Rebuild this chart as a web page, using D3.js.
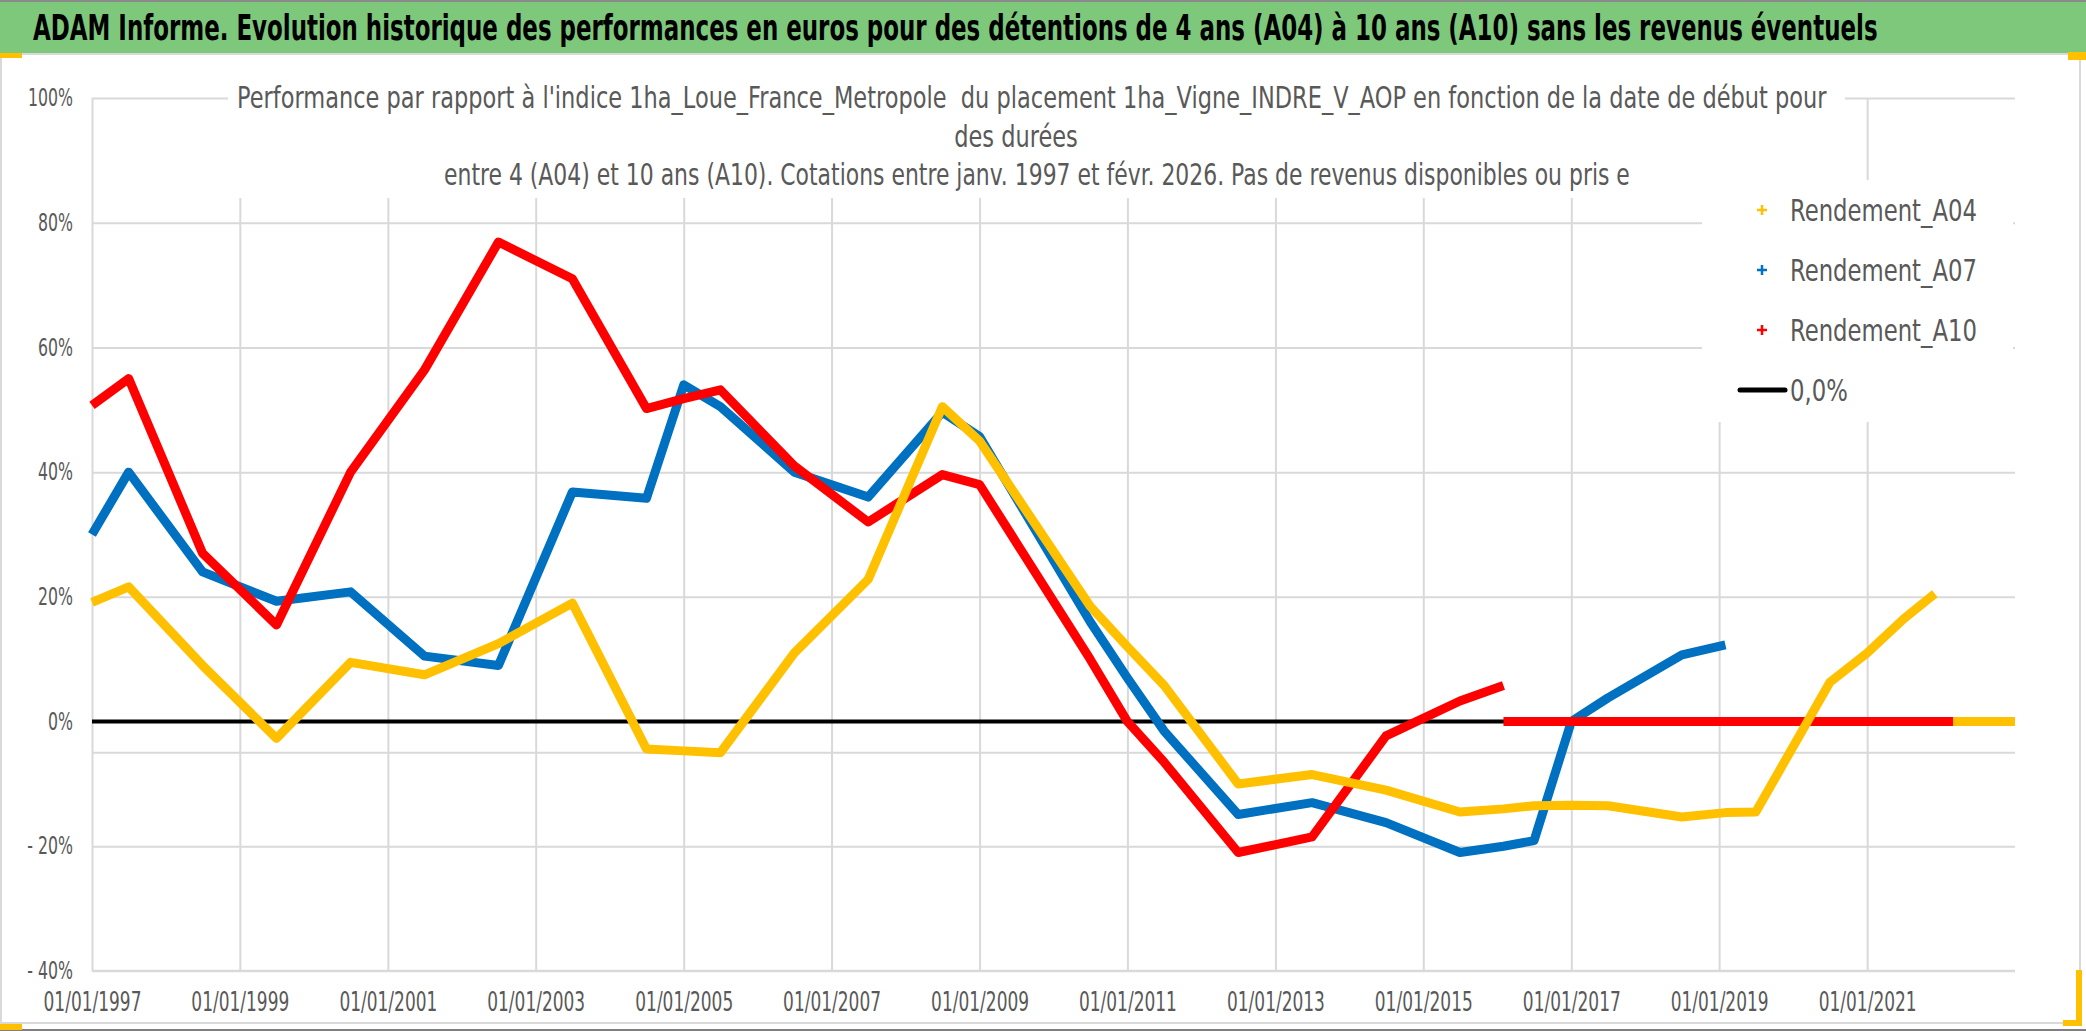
<!DOCTYPE html>
<html lang="fr">
<head>
    <meta charset="UTF-8">
    <title>ADAM Informe - Rendements A04 / A07 / A10</title>
    <script src="https://d3js.org/d3.v7.min.js"></script>
    <style>
        html, body { margin: 0; padding: 0; background: #ffffff; }
        svg { display: block; }
        text {
            font-family: 'Liberation Sans Narrow', 'DejaVu Sans Condensed', 'Liberation Sans', sans-serif;
            white-space: pre;
        }
    </style>
</head>
<body>
    <div id="chart"></div>

    <script>
        // Dates de début des placements (sommets)
        const startDates = ["1997-01", "1997-07", "1998-07", "1999-07", "2000-07", "2001-07", "2002-07",
            "2003-07", "2004-07", "2005-01", "2005-07", "2006-07", "2007-07", "2008-07", "2009-01",
            "2010-07", "2011-01", "2011-07", "2012-07", "2013-07", "2014-07", "2015-07", "2016-02",
            "2016-07", "2017-01", "2017-07", "2018-07", "2019-02", "2019-07", "2020-07", "2021-01",
            "2021-07", "2021-12"];

        // Rendements en %
        const rendA04 = [19.1, 21.6, 9, -2.7, 9.5, 7.5, 12.5, 19, -4.4, -4.7, -5.0, 11, 22.8, 50.5, 45,
            18.5, 12, 5.8, -10, -8.5, -11, -14.5, -14, -13.5, -13.4, -13.5, -15.3, -14.6, -14.5, 6.3, 11,
            16.5, 20.5];
        const rendA07 = [30, 40, 24, 19.3, 20.8, 10.5, 9, 36.8, 35.8, 54, 50.5, 40, 36, 49.6, 45.7,
            16, 7, -1.5, -14.9, -13, -16.2, -21, -20, -19.1, 0, 3.8, 10.7, 12.3, null, null, null,
            null, null];
        const rendA10 = [50.7, 55, 27, 15.5, 40, 56.4, 76.9, 71, 50.2, 51.8, 53.2, 41, 32, 39.6, 38,
            10, 0, -6.5, -21, -18.5, -2.3, 3.3, 5.8, null, null, null, null, null, null, null, null,
            null, null];

        // Cellules à 0 après la dernière date de début possible
        const zeroA04 = ["2022-03", "2023-01"];
        const zeroA07 = ["2019-03", "2023-01"];
        const zeroA10 = ["2016-02", "2023-01"];
        const zeroLine = ["1997-01", "2023-01"];

        const xTickYears = [1997, 1999, 2001, 2003, 2005, 2007, 2009, 2011, 2013, 2015, 2017, 2019, 2021];
        const yTicks = [-40, -20, 0, 20, 40, 60, 80, 100];
        const legendLabels = ["Rendement_A04", "Rendement_A07", "Rendement_A10", "0,0%"];

        const mainTitle = "ADAM Informe. Evolution historique des performances en euros pour des détentions de 4 ans (A04) à 10 ans (A10) sans les revenus éventuels";
        const subTitle = [
            "Performance par rapport à l'indice 1ha_Loue_France_Metropole  du placement 1ha_Vigne_INDRE_V_AOP en fonction de la date de début pour",
            "des durées",
            "entre 4 (A04) et 10 ans (A10). Cotations entre janv. 1997 et févr. 2026. Pas de revenus disponibles ou pris e"
        ];

        const config = {
            width: 2086,
            height: 1031,
            plot: { left: 92, right: 2015, top: 98, bottom: 971 },
            colors: {
                a04: '#ffc000',
                a07: '#0070c0',
                a10: '#ff0000',
                zero: '#000000',
                grid: '#d9d9d9',
                text: '#595959',
                banner: '#7ec87c'
            }
        };

        // facteur d'échelle horizontal pour qu'un texte occupe une largeur donnée
        function squeeze(textNode, width) {
            return width / textNode.getComputedTextLength();
        }

        function initChart() {
            const parse = d3.timeParse('%Y-%m');
            const p = config.plot;

            const svg = d3.select('#chart').append('svg')
                .attr('width', config.width)
                .attr('height', config.height);

            svg.append('rect').attr('width', config.width).attr('height', config.height).attr('fill', '#fff');

            // Bandeau titre
            svg.append('rect')
                .attr('x', 0).attr('y', 1).attr('width', config.width).attr('height', 52)
                .attr('fill', config.colors.banner);
            svg.append('line')
                .attr('x1', 0).attr('x2', config.width).attr('y1', 1).attr('y2', 1)
                .attr('stroke', '#8a8a8a').attr('stroke-width', 2);
            const title = svg.append('text')
                .attr('dy', '0.36em')
                .style('font-size', '36px')
                .style('font-weight', 'bold')
                .style('fill', '#000')
                .text(mainTitle);
            title.attr('transform', `translate(33, 27) scale(${squeeze(title.node(), 1845)}, 1)`);

            // Cadre du graphique
            svg.append('rect')
                .attr('x', 1).attr('y', 54).attr('width', 2079).attr('height', 969)
                .attr('fill', 'none').attr('stroke', config.colors.grid).attr('stroke-width', 2);
            svg.append('line')
                .attr('x1', 0).attr('x2', config.width).attr('y1', 1030).attr('y2', 1030)
                .attr('stroke', '#7f7f7f').attr('stroke-width', 2);
            // poignées de sélection
            [[0, 53, 22, 5], [2068, 52, 18, 8], [0, 1024, 22, 6], [2076, 970, 6, 56], [2063, 1020, 19, 6]]
                .forEach(r => svg.append('rect')
                    .attr('x', r[0]).attr('y', r[1]).attr('width', r[2]).attr('height', r[3])
                    .attr('fill', '#ffc000'));

            const x = d3.scaleTime()
                .domain([parse('1997-01'), parse('2023-01')])
                .range([p.left, p.right]);
            const y = d3.scaleLinear()
                .domain([-40, 100])
                .range([p.bottom, p.top]);

            const xTicks = xTickYears.map(yr => new Date(yr, 0, 1));

            // Grille
            svg.append('g')
                .attr('transform', `translate(0, ${p.bottom})`)
                .call(d3.axisBottom(x).tickValues(xTicks).tickSize(-(p.bottom - p.top)).tickFormat(''))
                .call(g => g.select('.domain').remove())
                .selectAll('line')
                .attr('stroke', config.colors.grid).attr('stroke-width', 2);

            svg.append('g')
                .attr('transform', `translate(${p.left}, 0)`)
                .call(d3.axisLeft(y).tickValues(yTicks.filter(v => v > -40)).tickSize(-(p.right - p.left)).tickFormat(''))
                .call(g => g.select('.domain').remove())
                .selectAll('line')
                .attr('stroke', config.colors.grid).attr('stroke-width', 2);

            // Fonds blancs du titre et de la légende
            svg.append('rect').attr('x', 228).attr('y', 70).attr('width', 1617).attr('height', 128).attr('fill', '#fff');
            svg.append('rect').attr('x', 1702).attr('y', 180).attr('width', 311).attr('height', 242).attr('fill', '#fff');

            // Axe horizontal secondaire et axe du bas
            svg.append('line')
                .attr('x1', p.left).attr('x2', p.right).attr('y1', y(-5)).attr('y2', y(-5))
                .attr('stroke', config.colors.grid).attr('stroke-width', 2);
            svg.append('line')
                .attr('x1', p.left).attr('x2', p.right).attr('y1', p.bottom).attr('y2', p.bottom)
                .attr('stroke', config.colors.grid).attr('stroke-width', 2.5);

            // Libellés des axes
            const xLabels = svg.append('g')
                .attr('transform', `translate(0, ${p.bottom})`)
                .call(d3.axisBottom(x).tickValues(xTicks).tickSize(0).tickPadding(22)
                    .tickFormat(d3.timeFormat('%d/%m/%Y')))
                .call(g => g.select('.domain').remove())
                .selectAll('text')
                .attr('font-family', null)
                .style('font-size', '26px')
                .attr('fill', config.colors.text);
            const kx = squeeze(xLabels.node(), 98);
            xLabels.attr('transform', `scale(${kx}, 1)`);

            const yLabels = svg.append('g')
                .attr('transform', `translate(${p.left}, 0)`)
                .call(d3.axisLeft(y).tickValues(yTicks).tickSize(0).tickPadding(19)
                    .tickFormat(v => v < 0 ? `- ${Math.abs(v)}%` : `${v}%`))
                .call(g => g.select('.domain').remove())
                .selectAll('text')
                .attr('font-family', null)
                .style('font-size', '24px')
                .attr('fill', config.colors.text);
            const ky = squeeze(yLabels.filter(d => d === 100).node(), 45);
            yLabels.attr('x', -19 / ky).attr('transform', `scale(${ky}, 1)`);

            // Séries
            const line = d3.line()
                .defined(d => d.v !== null)
                .x(d => x(d.date))
                .y(d => y(d.v));

            const toPoints = values => startDates.map((s, i) => ({ date: parse(s), v: values[i] }));
            const zeroPoints = span => span.map(s => ({ date: parse(s), v: 0 }));

            const drawPath = (pts, color, w) => svg.append('path')
                .datum(pts)
                .attr('d', line)
                .attr('fill', 'none')
                .attr('stroke', color)
                .attr('stroke-width', w)
                .attr('stroke-linejoin', 'round');

            drawPath(zeroPoints(zeroLine), config.colors.zero, 4);
            drawPath(toPoints(rendA07), config.colors.a07, 9);
            drawPath(zeroPoints(zeroA07), config.colors.a07, 9);
            drawPath(toPoints(rendA10), config.colors.a10, 9);
            drawPath(zeroPoints(zeroA10), config.colors.a10, 9);
            drawPath(toPoints(rendA04), config.colors.a04, 9);
            drawPath(zeroPoints(zeroA04), config.colors.a04, 9);

            // Titre du graphique
            const sub = svg.append('g').style('font-size', '30px').attr('fill', config.colors.text);
            const s1 = sub.append('text').attr('dy', '0.36em').text(subTitle[0]);
            const k1 = squeeze(s1.node(), 1590);
            s1.attr('transform', `translate(237, 97) scale(${k1}, 1)`);
            sub.append('text').attr('dy', '0.36em')
                .attr('text-anchor', 'middle')
                .attr('transform', `translate(1016, 136) scale(${k1}, 1)`)
                .text(subTitle[1]);
            const s3 = sub.append('text').attr('dy', '0.36em').text(subTitle[2]);
            s3.attr('transform', `translate(444, 174) scale(${squeeze(s3.node(), 1186)}, 1)`);

            // Légende
            const legendColors = [config.colors.a04, config.colors.a07, config.colors.a10, config.colors.zero];
            const legend = svg.append('g');
            let kl = 1;
            legendLabels.forEach((label, i) => {
                const ly = 210 + i * 60;
                if (i < 3) {
                    legend.append('path')
                        .attr('d', `M${1757},${ly}h10M${1762},${ly - 5}v10`)
                        .attr('stroke', legendColors[i]).attr('stroke-width', 2.5);
                } else {
                    legend.append('line')
                        .attr('x1', 1740).attr('x2', 1785).attr('y1', ly).attr('y2', ly)
                        .attr('stroke', legendColors[i]).attr('stroke-width', 5)
                        .attr('stroke-linecap', 'round');
                }
                const t = legend.append('text')
                    .attr('dy', '0.36em')
                    .style('font-size', '30px')
                    .attr('fill', config.colors.text)
                    .text(label);
                if (i === 0) kl = squeeze(t.node(), 187);
                t.attr('transform', `translate(1790, ${ly}) scale(${kl}, 1)`);
            });
        }

        document.addEventListener('DOMContentLoaded', initChart);
    </script>
</body>
</html>
